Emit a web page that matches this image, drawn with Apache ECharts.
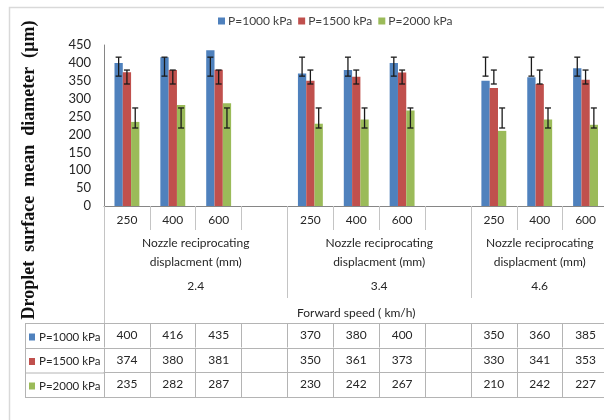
<!DOCTYPE html>
<html><head><meta charset="utf-8">
<script src="https://cdn.jsdelivr.net/npm/echarts/dist/echarts.min.js"></script>
<style>html,body{margin:0;padding:0;overflow:hidden;background:#fff;width:604px;height:420px}#c{width:720px;height:420px}</style>
</head><body><div id="c"></div>
<script>
// ---- data ----
const displacements = ['250','400','600','','250','400','600','','250','400','600'];
const speeds = ['2.4','3.4','4.6'];
const seriesNames = ['P=1000 kPa','P=1500 kPa','P=2000 kPa'];
const p1000 = [400,416,435,null,370,380,400,null,350,360,385];
const p1500 = [374,380,381,null,350,361,373,null,330,341,353];
const p2000 = [235,282,287,null,230,242,267,null,210,242,227];
const err1000Low  = [363,363,363,null,363,363,363,null,363,363,363];
const err1000High = [416,416,416,null,416,416,416,null,416,416,416];
const err1500Low  = [341,341,341,null,341,341,341,null,341,341,341];
const err1500High = [380,380,380,null,380,380,380,null,380,380,380];
const err2000Low  = [218,218,218,null,218,218,218,null,218,218,218];
const err2000High = [274,274,274,null,274,274,274,null,274,274,274];
const yTitle = 'Droplet  surface  mean  diameter  (µm)';
const groupTitle = ['Nozzle reciprocating','displacment (mm)'];
const xTitle = 'Forward speed ( km/h)';
const yMin = 0, yMax = 450, yStep = 50;

// ---- chart ----
const colors = ['#4F81BD','#C0504D','#9BBB59'];
const values = [p1000, p1500, p2000];
const errs = [[err1000Low,err1000High],[err1500Low,err1500High],[err2000Low,err2000High]];
const FONT = 'Lato';
const BW = 8.3;
const gridColor = '#b4b4b4';
const sepColor = '#c4c4c4';

// group spans (groups separated by the blank spacer columns)
const groupSpans = [];
let s = 0;
displacements.forEach((d, i) => {
  if (d === '') { groupSpans.push([s, i + 1]); s = i + 1; }
});
if (s < displacements.length) groupSpans.push([s, displacements.length]);
// half-column boundary axis (boundaryGap false): 2*n+1 points
const nHalf = displacements.length * 2 + 1;
const halfLabels = new Array(nHalf).fill('');
const halfTicks = new Array(nHalf).fill(false);
groupSpans.forEach((sp, k) => { halfLabels[sp[0] + sp[1]] = speeds[k]; halfTicks[2 * sp[0]] = true; halfTicks[2 * sp[1]] = true; });

const chart = echarts.init(document.getElementById('c'), null, {renderer:'canvas', width:720, height:420});

function tableRow(vals, offset){
  return {
    type:'category', data: vals.map(v => v == null ? '' : String(v)), position:'bottom', offset: offset,
    axisLine:{show:true, lineStyle:{color:gridColor, width:1}},
    axisTick:{show:true, interval:0, length:24.5, lineStyle:{color:gridColor}},
    axisLabel:{interval:0, margin:5, fontSize:12, lineHeight:14, color:'#262626', fontFamily:FONT},
    splitLine:{show:false}
  };
}

const series = [];
values.forEach((vals, k) => {
  series.push({
    name: seriesNames[k], type:'bar', xAxisIndex:0, yAxisIndex:0,
    data: vals, barWidth: BW, barGap:'0%',
    itemStyle:{color: colors[k]}, z:2
  });
});
errs.forEach((pair, k) => {
  const data = [];
  pair[0].forEach((lo, i) => { if (lo != null) data.push([i, lo, pair[1][i]]); });
  series.push({
    name: 'err' + k, type:'custom', xAxisIndex:0, yAxisIndex:0, z:5,
    data: data, encode:{x:0, y:[1,2]},
    renderItem: function(params, api){
      const i = api.value(0);
      const base = api.coord([i, api.value(1)]);
      const top = api.coord([i, api.value(2)]);
      const x = base[0] + (k - 1) * BW;
      const h = 3;
      const st = {stroke:'#1a1a1a', lineWidth:1.3};
      return {type:'group', children:[
        {type:'line', shape:{x1:x, y1:base[1], x2:x, y2:top[1]}, style:st},
        {type:'line', shape:{x1:x-h, y1:base[1], x2:x+h, y2:base[1]}, style:st},
        {type:'line', shape:{x1:x-h, y1:top[1], x2:x+h, y2:top[1]}, style:st}
      ]};
    }
  });
});

const leftLines = [];
[323, 348, 372.5, 397].forEach(y => leftLines.push({type:'line', shape:{x1:25, y1:y+0.5, x2:104, y2:y+0.5}, style:{stroke:gridColor, lineWidth:1}}));
leftLines.push({type:'line', shape:{x1:25.5, y1:323, x2:25.5, y2:397.5}, style:{stroke:gridColor, lineWidth:1}});

chart.setOption({
  animation:false,
  color: colors,
  grid:{left:104, top:45, width:504.5, height:161, containLabel:false, outerBoundsMode:'none'},
  legend:[
    {data: seriesNames, left:218, top:15, padding:0, itemWidth:7, itemHeight:7, itemGap:6, icon:'rect',
     textStyle:{fontSize:12, color:'#404040', fontFamily:FONT, padding:[0,0,0,-2]}},
    {data: seriesNames, orient:'vertical', left:29, top:330, padding:0, itemWidth:6, itemHeight:7, itemGap:10.5, icon:'rect',
     textStyle:{fontSize:11.5, lineHeight:14, color:'#262626', fontFamily:FONT, padding:[0,0,0,-1]}, selectedMode:false}
  ],
  xAxis:[
    {type:'category', data: displacements, position:'bottom',
     axisLine:{show:true, lineStyle:{color:'#868686'}},
     axisTick:{show:true, interval:0, length:24, lineStyle:{color:sepColor}},
     axisLabel:{interval:0, margin:7, fontSize:12, lineHeight:14, color:'#262626', fontFamily:FONT},
     splitLine:{show:false}},
    {type:'category', data: halfLabels, position:'bottom', boundaryGap:false,
     axisLine:{show:false},
     axisTick:{show:true, interval:(idx) => halfTicks[idx], length:92, lineStyle:{color:sepColor}},
     axisLabel:{interval:(idx, v) => v !== '', margin:28, color:'#262626', fontFamily:FONT, fontSize:12,
       formatter: v => v === '' ? '' : '{a|' + groupTitle[0] + '}\n{a|' + groupTitle[1] + '}\n{b|' + v + '}',
       rich:{a:{lineHeight:19, fontSize:12, fontFamily:FONT, color:'#262626'}, b:{lineHeight:29, fontSize:12, fontFamily:FONT, color:'#262626'}}},
     splitLine:{show:false}},
    {type:'category', data:[xTitle], position:'bottom',
     axisLine:{show:false},
     axisTick:{show:true, interval:0, length:117, lineStyle:{color:sepColor}},
     axisLabel:{interval:0, margin:100, fontSize:12, lineHeight:14, color:'#262626', fontFamily:FONT},
     splitLine:{show:false}},
    tableRow(p1000, 117),
    tableRow(p1500, 142),
    tableRow(p2000, 166.5),
    {type:'category', data: displacements, position:'bottom', offset:191,
     axisLine:{show:true, lineStyle:{color:gridColor}}, axisTick:{show:false}, axisLabel:{show:false}, splitLine:{show:false}}
  ],
  yAxis:{type:'value', min:yMin, max:yMax, interval:yStep,
    axisLine:{show:true, lineStyle:{color:'#868686'}}, axisTick:{show:false},
    axisLabel:{margin:13, fontSize:13, color:'#262626', fontFamily:FONT},
    splitLine:{show:false}},
  graphic:[
    {type:'rect', z:-1, shape:{x:9.5, y:7.5, width:800, height:600}, style:{fill:null, stroke:'#d9d9d9', lineWidth:1.5}},
    {type:'text', x:29, y:170, rotation:Math.PI/2,
     style:{text:yTitle, font:'bold 18px "Liberation Serif"', fill:'#111', align:'center', verticalAlign:'middle'}},
    ...leftLines
  ],
  series: series
});
</script></body></html>
